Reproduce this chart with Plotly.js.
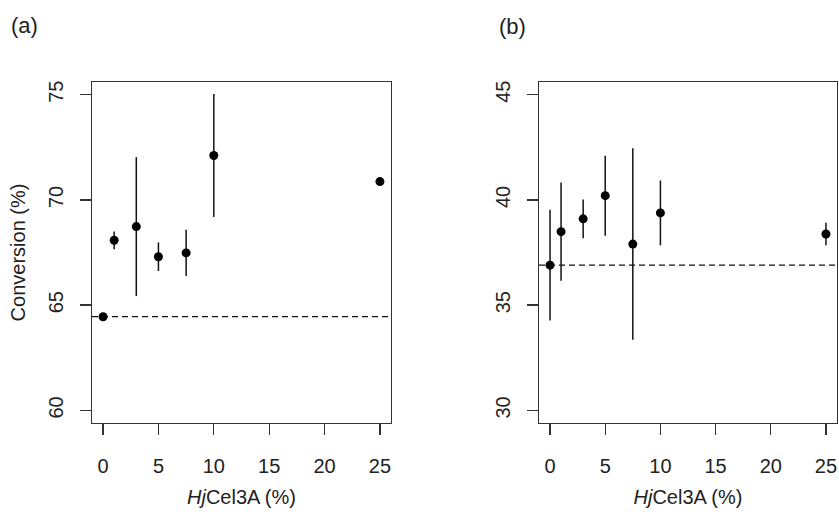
<!DOCTYPE html>
<html>
<head>
<meta charset="utf-8">
<script src="https://cdn.plot.ly/plotly-3.0.1.min.js"></script>
<style>html,body{margin:0;padding:0;background:#fff;}#plot{width:839px;height:514px;}</style>
</head>
<body>
<div id="plot"></div>
<script>
// HjCel3A loading (%)
const loadingA = [0, 1, 3, 5, 7.5, 10, 25];
const conversionA = [64.45, 68.08, 68.73, 67.30, 67.48, 72.11, 70.87];
const errorA = [0, 0.42, 3.3, 0.68, 1.1, 2.92, 0.12];
const baselineA = 64.45;

const loadingB = [0, 1, 3, 5, 7.5, 10, 25];
const conversionB = [36.90, 38.49, 39.10, 40.20, 37.90, 39.38, 38.38];
const errorB = [2.63, 2.33, 0.92, 1.9, 4.55, 1.54, 0.53];
const baselineB = 36.90;

const panelLabels = ['(a)', '(b)'];
const xTitle = '<i>Hj</i>Cel3A (%)';
const yTitle = 'Conversion (%)';

const FONT = 'Liberation Sans, Arial, sans-serif';
const INK = '#222';

function pts(x, y, e, xa, ya) {
  return {
    x: x, y: y, xaxis: xa, yaxis: ya, type: 'scatter', mode: 'markers',
    marker: {color: '#000', size: 9},
    error_y: {type: 'data', array: e, visible: true, width: 0, thickness: 1.5, color: '#111'},
    showlegend: false, hoverinfo: 'x+y'
  };
}

function xax(domain, anchor) {
  return {
    domain: domain, anchor: anchor, range: [-1, 26], dtick: 5, tick0: 0,
    showgrid: false, zeroline: false, showline: true, mirror: true,
    linecolor: '#333', linewidth: 1.3, ticks: 'outside', ticklen: 11, tickwidth: 1.3, tickcolor: '#333',
    ticklabelstandoff: 14,
    tickfont: {family: FONT, size: 20, color: INK},
    title: {text: xTitle, font: {family: FONT, size: 20, color: INK}, standoff: 13}
  };
}
function yax(domain, anchor, range, title) {
  return {
    domain: domain, anchor: anchor, range: range, dtick: 5,
    showgrid: false, zeroline: false, showline: true, mirror: true,
    linecolor: '#333', linewidth: 1.3, ticks: 'outside', ticklen: 11, tickwidth: 1.3, tickcolor: '#333',
    tickangle: -90, ticklabelstandoff: 9,
    tickfont: {family: FONT, size: 20, color: INK},
    title: {text: title, font: {family: FONT, size: 20, color: INK}, standoff: 13}
  };
}

const yDom = [(514 - 423) / 514, (514 - 82) / 514];

const data = [
  pts(loadingA, conversionA, errorA, 'x', 'y'),
  pts(loadingB, conversionB, errorB, 'x2', 'y2')
];

const layout = {
  width: 839, height: 514,
  margin: {l: 0, r: 0, t: 0, b: 0},
  paper_bgcolor: '#fff', plot_bgcolor: '#fff',
  font: {family: FONT, color: INK},
  xaxis: xax([92 / 839, 391 / 839], 'y'),
  yaxis: yax(yDom, 'x', [59.4, 75.6], yTitle),
  xaxis2: xax([539 / 839, 837 / 839], 'y2'),
  yaxis2: yax(yDom, 'x2', [29.4, 45.6], ''),
  shapes: [
    {type: 'line', xref: 'x domain', yref: 'y', x0: 0, x1: 1, y0: baselineA, y1: baselineA,
     line: {color: '#111', width: 1.3, dash: '6px,4px'}},
    {type: 'line', xref: 'x2 domain', yref: 'y2', x0: 0, x1: 1, y0: baselineB, y1: baselineB,
     line: {color: '#111', width: 1.3, dash: '6px,4px'}}
  ],
  annotations: [
    {text: panelLabels[0], xref: 'paper', yref: 'paper', x: 24 / 839, y: 1 - 25 / 514,
     xanchor: 'center', yanchor: 'middle', showarrow: false, font: {family: FONT, size: 22, color: INK}},
    {text: panelLabels[1], xref: 'paper', yref: 'paper', x: 512 / 839, y: 1 - 26 / 514,
     xanchor: 'center', yanchor: 'middle', showarrow: false, font: {family: FONT, size: 22, color: INK}}
  ]
};

Plotly.newPlot('plot', data, layout, {staticPlot: true, displayModeBar: false});
</script>
</body>
</html>
